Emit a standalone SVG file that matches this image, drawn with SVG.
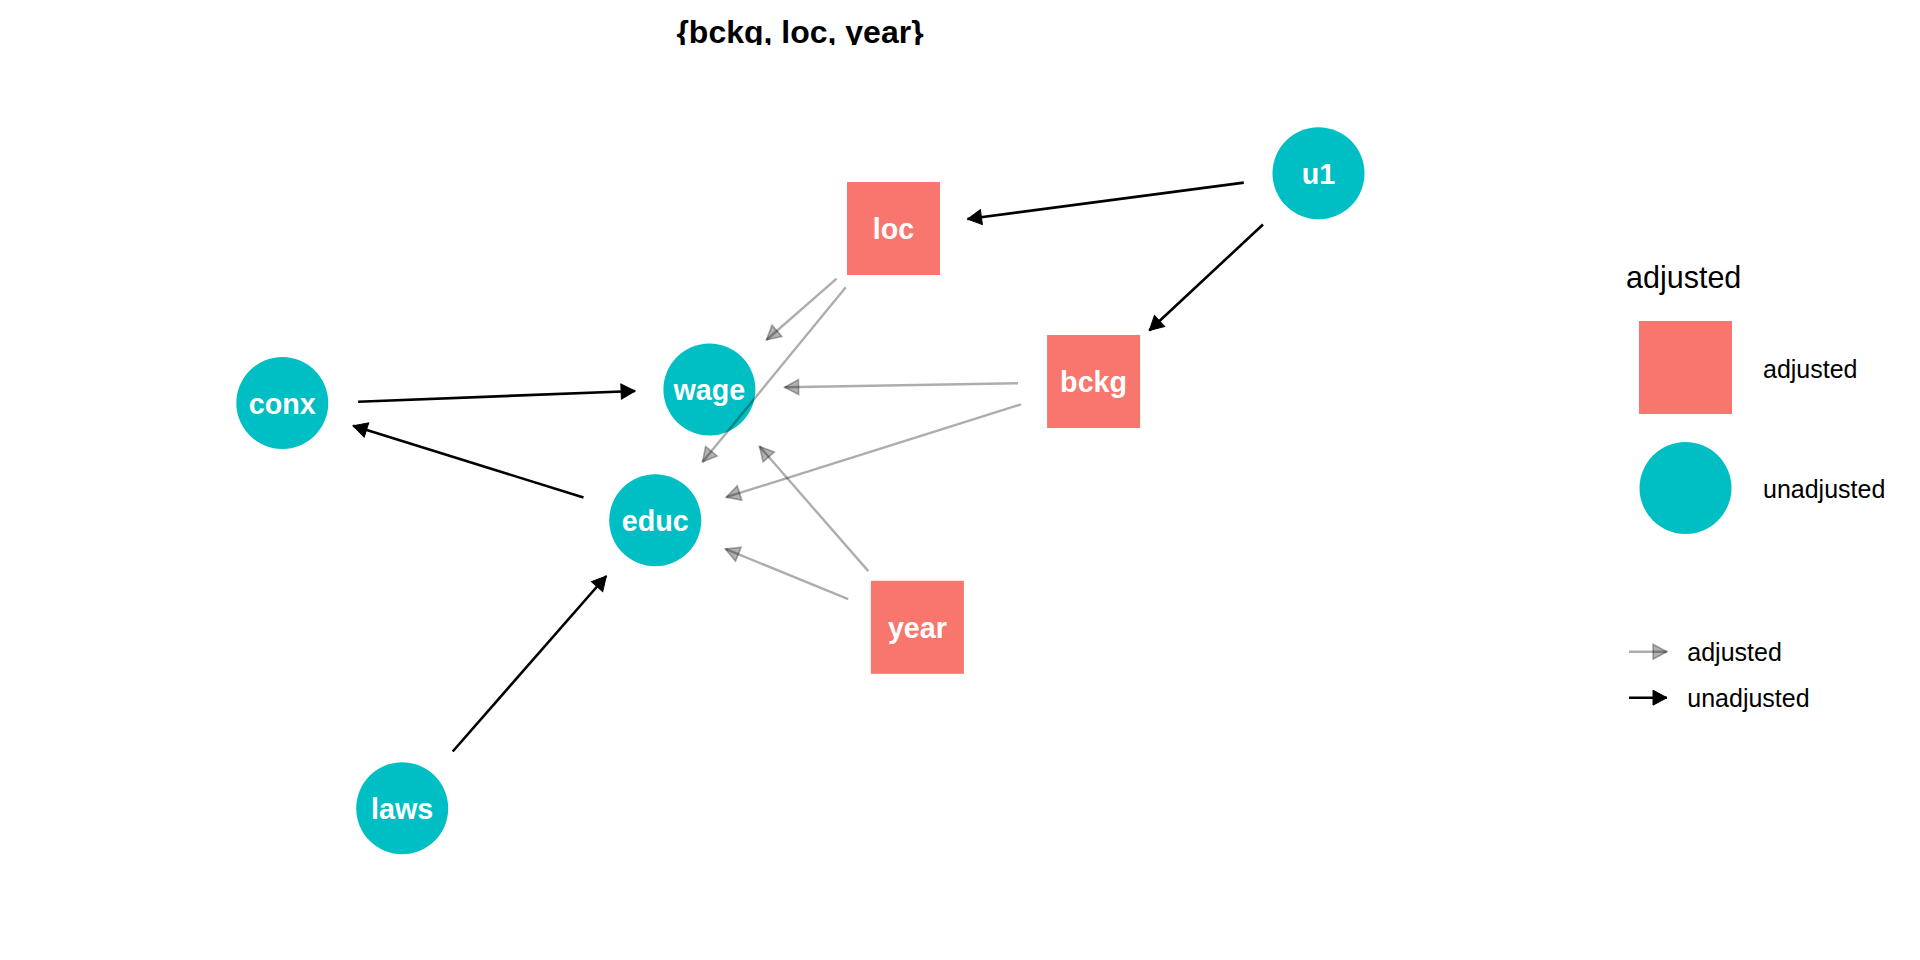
<svg xmlns="http://www.w3.org/2000/svg" width="1920" height="960" viewBox="0 0 1920 960">
<style>
.adj{fill:#F8766D}
.unadj{fill:#00BFC4}
.nl{font-family:"Liberation Sans",Arial,sans-serif;font-weight:bold;font-size:28.7px;fill:#fff;text-anchor:middle}
.lt{font-family:"Liberation Sans",Arial,sans-serif;font-size:25px;fill:#000}
.e-u{stroke:#000;stroke-width:2.6;fill:none;marker-end:url(#ah-u)}
.e-a{stroke:#000;stroke-opacity:0.32;stroke-width:2.4;fill:none;marker-end:url(#ah-a)}
</style>
<defs>
<marker id="ah-u" markerUnits="userSpaceOnUse" viewBox="0 0 14 15" refX="14" refY="7.5" markerWidth="14" markerHeight="15" orient="auto" overflow="visible">
<path d="M0,0 L14,7.5 L0,15 Z" fill="#000" stroke="#000" stroke-width="1"/>
</marker>
<marker id="ah-a" markerUnits="userSpaceOnUse" viewBox="0 0 14 15" refX="14" refY="7.5" markerWidth="14" markerHeight="15" orient="auto" overflow="visible">
<path d="M0,0 L14,7.5 L0,15 Z" fill="#000" fill-opacity="0.3" stroke="#000" stroke-opacity="0.3" stroke-width="1.6"/>
</marker>
<clipPath id="titleclip"><rect x="0" y="0" width="1920" height="45"/></clipPath>
</defs>
<rect width="1920" height="960" fill="#fff"/>
<text x="800" y="42.5" clip-path="url(#titleclip)" style="font-family:'Liberation Sans',Arial,sans-serif;font-weight:bold;font-size:32px;text-anchor:middle;fill:#000">{bckg, loc, year}</text>

<g id="node-u1"><circle class="unadj" cx="1318.5" cy="173.3" r="46"/><text class="nl" x="1318.5" y="184">u1</text></g>
<g id="node-loc"><rect class="adj" x="847" y="182" width="93" height="93"/><text class="nl" x="893.5" y="239.2">loc</text></g>
<g id="node-bckg"><rect class="adj" x="1047.1" y="335" width="93" height="93"/><text class="nl" x="1093.6" y="392.2">bckg</text></g>
<g id="node-conx"><circle class="unadj" cx="282.3" cy="403" r="46"/><text class="nl" x="282.3" y="413.7">conx</text></g>
<g id="node-wage"><circle class="unadj" cx="709.4" cy="389.5" r="46"/><text class="nl" x="709.4" y="400.2">wage</text></g>
<g id="node-educ"><circle class="unadj" cx="655.2" cy="520.3" r="46"/><text class="nl" x="655.2" y="531">educ</text></g>
<g id="node-year"><rect class="adj" x="870.9" y="580.8" width="93" height="93"/><text class="nl" x="917.4" y="638">year</text></g>
<g id="node-laws"><circle class="unadj" cx="402.2" cy="808.3" r="46"/><text class="nl" x="402.2" y="819">laws</text></g>

<g id="connectors">
<line class="e-u" x1="358.1" y1="401.7" x2="635.1" y2="391"/>
<line class="e-u" x1="583.5" y1="497.5" x2="353.1" y2="425.8"/>
<line class="e-u" x1="452.7" y1="751.5" x2="606.3" y2="576"/>
<line class="e-u" x1="1243.8" y1="182.6" x2="967.5" y2="219"/>
<line class="e-u" x1="1263" y1="224.5" x2="1149.3" y2="330.5"/>
<line class="e-a" x1="836.6" y1="278.7" x2="766.4" y2="340"/>
<line class="e-a" x1="845.8" y1="287.3" x2="702.5" y2="462"/>
<line class="e-a" x1="1018" y1="383.3" x2="784.6" y2="387.3"/>
<line class="e-a" x1="1021.1" y1="404.3" x2="726.2" y2="497.2"/>
<line class="e-a" x1="868.3" y1="571.1" x2="759.5" y2="446.4"/>
<line class="e-a" x1="848.2" y1="599.2" x2="725.4" y2="548.9"/>
</g>

<g id="legend">
<text x="1626" y="288.3" style="font-family:'Liberation Sans',Arial,sans-serif;font-size:30.5px;fill:#000">adjusted</text>
<rect class="adj" x="1639" y="321" width="93" height="93"/>
<text class="lt" x="1763" y="377.7">adjusted</text>
<circle class="unadj" cx="1685.5" cy="488" r="46"/>
<text class="lt" x="1763" y="498.3">unadjusted</text>
<line class="e-a" x1="1629" y1="651.7" x2="1667" y2="651.7"/>
<text class="lt" x="1687.3" y="661">adjusted</text>
<line class="e-u" x1="1629" y1="697.7" x2="1667" y2="697.7"/>
<text class="lt" x="1687.3" y="706.7">unadjusted</text>
</g>
</svg>
